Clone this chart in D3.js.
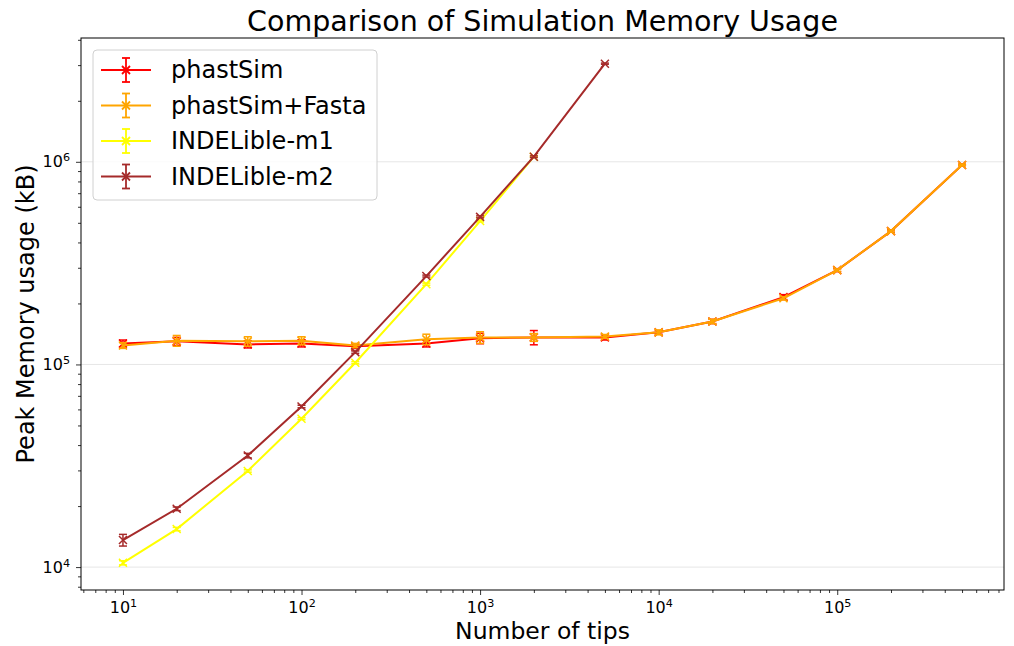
<!DOCTYPE html>
<html>
<head>
<meta charset="utf-8">
<script src="https://cdn.jsdelivr.net/npm/d3@7"></script>
<style>
  body { margin: 0; background: #fff; }
  text { font-family: "DejaVu Sans", sans-serif; }
</style>
</head>
<body>
<svg width="1014" height="646"></svg>
<script>
// data
var tipsLong  = [10, 20, 50, 100, 200, 500, 1000, 2000, 5000, 10000, 20000, 50000, 100000, 200000, 500000];
var phastSim      = [127000, 130000, 125600, 127000, 122800, 127000, 134500, 136000, 136000, 144000, 163000, 215000, 292000, 455000, 965000];
var phastSimErr   = [5000, 6000, 5000, 5000, 3000, 5000, 8000, 11000, 4000, 3000, 4000, 6000, 5000, 6000, 8000];
var phastFasta    = [124000, 131000, 130000, 131000, 124000, 133000, 136000, 136000, 137500, 144000, 163000, 212000, 292000, 455000, 965000];
var phastFastaErr = [4000, 8000, 7000, 6000, 3000, 8000, 9000, 6000, 3000, 4000, 4000, 4000, 4000, 5000, 8000];

var tipsM1 = [10, 20, 50, 100, 200, 500, 1000, 2000];
var indelM1    = [10500, 15400, 29800, 54000, 102000, 249000, 510000, 1060000];
var indelM1Err = [250, 300, 400, 600, 1200, 3000, 5000, 8000];

var tipsM2 = [10, 20, 50, 100, 200, 500, 1000, 2000, 5000];
var indelM2    = [13600, 19400, 35500, 62000, 115000, 273000, 535000, 1060000, 3050000];
var indelM2Err = [900, 400, 900, 900, 1500, 3000, 6000, 10000, 20000];

var series = [
  {name: "phastSim",       x: tipsLong, y: phastSim,   e: phastSimErr,   color: "red"},
  {name: "phastSim+Fasta", x: tipsLong, y: phastFasta, e: phastFastaErr, color: "orange"},
  {name: "INDELible-m1",   x: tipsM1,   y: indelM1,    e: indelM1Err,    color: "yellow"},
  {name: "INDELible-m2",   x: tipsM2,   y: indelM2,    e: indelM2Err,    color: "brown"}
];

var svg = d3.select("svg"),
    margin = {top: 38, right: 10, bottom: 56, left: 81},
    width  = +svg.attr("width") - margin.left - margin.right,
    height = +svg.attr("height") - margin.top - margin.bottom;

// log domains padded 5% like matplotlib
function padLog(lo, hi) {
  var a = Math.log10(lo), b = Math.log10(hi), p = (b - a) * 0.05;
  return [Math.pow(10, a - p), Math.pow(10, b + p)];
}
var allX = [].concat.apply([], series.map(function(s) { return s.x; }));
var allYlo = [].concat.apply([], series.map(function(s) { return s.y.map(function(v, i) { return v - s.e[i]; }); }));
var allYhi = [].concat.apply([], series.map(function(s) { return s.y.map(function(v, i) { return v + s.e[i]; }); }));

var x = d3.scaleLog().domain(padLog(d3.min(allX), d3.max(allX))).range([0, width]);
var y = d3.scaleLog().domain(padLog(d3.min(allYlo), d3.max(allYhi))).range([height, 0]);

var g = svg.append("g").attr("transform", "translate(" + margin.left + "," + margin.top + ")");

function decades(sc) {
  var d = sc.domain(), out = [];
  for (var k = Math.ceil(Math.log10(d[0])); k <= Math.floor(Math.log10(d[1])); k++) out.push(Math.pow(10, k));
  return out;
}
function minors(sc) {
  var d = sc.domain(), out = [];
  for (var k = Math.floor(Math.log10(d[0])); k <= Math.ceil(Math.log10(d[1])); k++)
    for (var j = 2; j < 10; j++) { var v = j * Math.pow(10, k); if (v >= d[0] && v <= d[1]) out.push(v); }
  return out;
}
// "10" with a raised exponent
function powLabel(sel) {
  sel.selectAll(".tick text").each(function(d) {
    var t = d3.select(this).text("");
    t.append("tspan").text("10");
    t.append("tspan").attr("dy", "-0.55em").attr("font-size", "0.7em").text(Math.round(Math.log10(d)));
  });
}

// grid (horizontal at major y)
g.append("g").selectAll("line").data(decades(y)).join("line")
  .attr("x1", 0).attr("x2", width)
  .attr("y1", function(d) { return y(d); }).attr("y2", function(d) { return y(d); })
  .attr("stroke", "#e6e6e6").attr("stroke-width", 1);

// axes
var xAxis = d3.axisBottom(x).tickValues(decades(x)).tickSize(5).tickPadding(7);
var xMinor = d3.axisBottom(x).tickValues(minors(x)).tickSize(3).tickFormat("");
var yAxis = d3.axisLeft(y).tickValues(decades(y)).tickSize(5).tickPadding(6);
var yMinor = d3.axisLeft(y).tickValues(minors(y)).tickSize(3).tickFormat("");

[ [xMinor, "x", false], [xAxis, "x", true], [yMinor, "y", false], [yAxis, "y", true] ].forEach(function(a) {
  var ax = g.append("g");
  if (a[1] === "x") ax.attr("transform", "translate(0," + height + ")");
  ax.call(a[0]);
  ax.select(".domain").remove();
  ax.selectAll("line").attr("stroke", "#000").attr("stroke-width", 0.8);
  ax.selectAll("text").attr("font-size", 16).attr("fill", "#000");
  if (a[2]) ax.call(powLabel);
});

// lines, error bars, markers
var line = d3.line()
  .x(function(d) { return x(d[0]); })
  .y(function(d) { return y(d[1]); });

series.forEach(function(s) {
  var pts = s.x.map(function(v, i) { return [v, s.y[i], s.e[i]]; });
  var sg = g.append("g");
  sg.append("path").datum(pts).attr("d", line)
    .attr("fill", "none").attr("stroke", s.color).attr("stroke-width", 2);
  var eb = sg.selectAll(".eb").data(pts).join("g").attr("stroke", s.color).attr("stroke-width", 1.5);
  eb.append("line")
    .attr("x1", function(d) { return x(d[0]); }).attr("x2", function(d) { return x(d[0]); })
    .attr("y1", function(d) { return y(d[1] - d[2]); }).attr("y2", function(d) { return y(d[1] + d[2]); });
  [-1, 1].forEach(function(sgn) {
    eb.append("line")
      .attr("x1", function(d) { return x(d[0]) - 4; }).attr("x2", function(d) { return x(d[0]) + 4; })
      .attr("y1", function(d) { return y(d[1] + sgn * d[2]); }).attr("y2", function(d) { return y(d[1] + sgn * d[2]); });
  });
  sg.selectAll(".mk").data(pts).join("path")
    .attr("transform", function(d) { return "translate(" + x(d[0]) + "," + y(d[1]) + ")"; })
    .attr("d", "M-4,-4L4,4M-4,4L4,-4")
    .attr("stroke", s.color).attr("stroke-width", 1.5).attr("fill", "none");
});

// frame
g.append("rect").attr("width", width).attr("height", height)
  .attr("fill", "none").attr("stroke", "#000").attr("stroke-width", 1);

// legend
var lg = g.append("g").attr("transform", "translate(12,12)");
lg.append("rect").attr("width", 284).attr("height", 150).attr("rx", 4)
  .attr("fill", "#fff").attr("fill-opacity", 0.8).attr("stroke", "#d0d0d0");
series.forEach(function(s, i) {
  var cy = 20 + i * 35.5, row = lg.append("g").attr("stroke", s.color).attr("stroke-width", 1.8);
  row.append("line").attr("x1", 8).attr("x2", 58).attr("y1", cy).attr("y2", cy).attr("stroke-width", 2);
  row.append("line").attr("x1", 33).attr("x2", 33).attr("y1", cy - 12).attr("y2", cy + 12);
  row.append("line").attr("x1", 29).attr("x2", 37).attr("y1", cy - 12).attr("y2", cy - 12);
  row.append("line").attr("x1", 29).attr("x2", 37).attr("y1", cy + 12).attr("y2", cy + 12);
  row.append("path").attr("d", "M29,"+(cy-4)+"L37,"+(cy+4)+"M29,"+(cy+4)+"L37,"+(cy-4));
  lg.append("text").attr("x", 78).attr("y", cy).attr("dy", "0.35em")
    .attr("font-size", 24).text(s.name);
});

// titles
svg.append("text").attr("x", margin.left + width / 2).attr("y", 31)
  .attr("text-anchor", "middle").attr("font-size", 28.5).text("Comparison of Simulation Memory Usage");
svg.append("text").attr("x", margin.left + width / 2).attr("y", 639)
  .attr("text-anchor", "middle").attr("font-size", 23.5).text("Number of tips");
svg.append("text").attr("transform", "translate(34," + (margin.top + height / 2) + ") rotate(-90)")
  .attr("text-anchor", "middle").attr("font-size", 24).text("Peak Memory usage (kB)");
</script>
</body>
</html>
